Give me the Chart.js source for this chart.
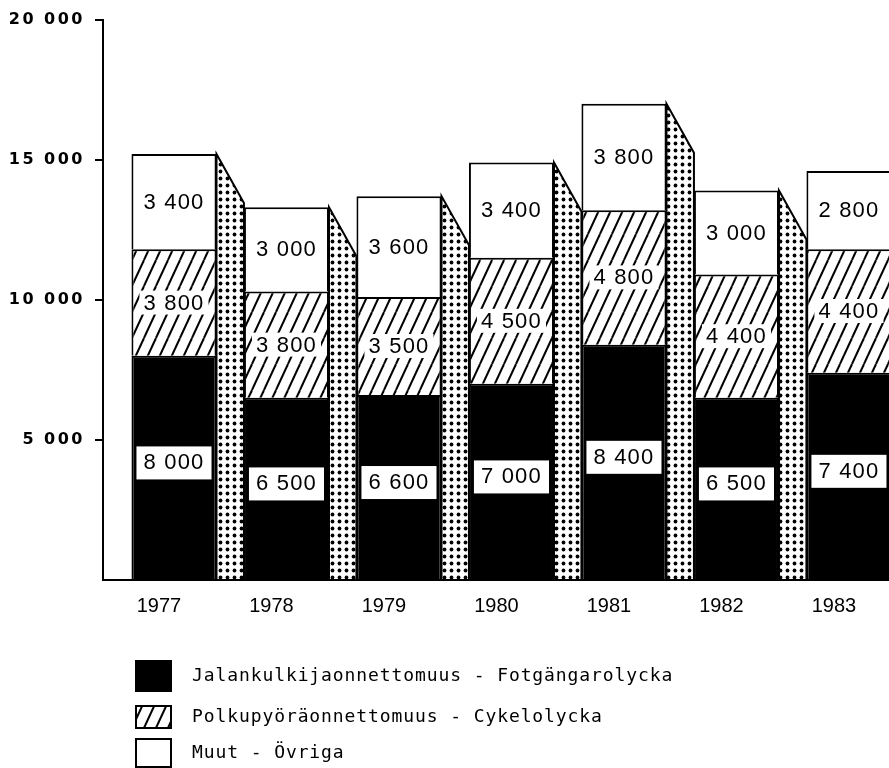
<!DOCTYPE html>
<html>
<head>
<meta charset="utf-8">
<script src="https://cdn.jsdelivr.net/npm/chart.js@4"></script>
<style>
  html, body { margin: 0; background: #fff; }
  #wrap { position: relative; width: 889px; height: 768px; }
</style>
</head>
<body>
<div id="wrap"><canvas id="accidentChart"></canvas></div>
<script>
// Accidents by type, stacked per year
const years = [1977, 1978, 1979, 1980, 1981, 1982, 1983];
const pedestrian = [8000, 6500, 6600, 7000, 8400, 6500, 7400];
const cyclist = [3800, 3800, 3500, 4500, 4800, 4400, 4400];
const other = [3400, 3000, 3600, 3400, 3800, 3000, 2800];
const yTicks = [0, 5000, 10000, 15000, 20000];
const seriesNames = [
    'Jalankulkijaonnettomuus - Fotgängarolycka',
    'Polkupyöräonnettomuus - Cykelolycka',
    'Muut - Övriga'
];

// 8000 -> "8 000"
const fmt = v => String(v).replace(/\B(?=(\d{3})+(?!\d))/g, ' ');

const canvas = document.getElementById('accidentChart');

function makePattern(w, h, draw) {
    const c = document.createElement('canvas');
    c.width = w;
    c.height = h;
    const g = c.getContext('2d');
    g.fillStyle = '#fff';
    g.fillRect(0, 0, w, h);
    draw(g, w, h);
    return canvas.getContext('2d').createPattern(c, 'repeat');
}

// steep "///" hatching
const hatch = makePattern(12, 26, (g, w, h) => {
    g.strokeStyle = '#000';
    g.lineWidth = 2;
    for (const x0 of [-w, 0, w]) {
        g.beginPath();
        g.moveTo(x0, h);
        g.lineTo(x0 + w, 0);
        g.stroke();
    }
});

// dot raster used on the bar sides
const dots = makePattern(7, 7, g => {
    g.fillStyle = '#000';
    g.beginPath();
    g.arc(3.5, 3.5, 1.9, 0, Math.PI * 2);
    g.fill();
});

const fills = ['#000', hatch, '#fff'];
const series = [pedestrian, cyclist, other];

const datasets = series.map((values, s) => ({
    label: seriesNames[s],
    data: values.map((v, i) => ({ x: years[i], y: v })),
    backgroundColor: fills[s],
    borderColor: '#000',
    borderWidth: 2,
    borderSkipped: 'start',
    barPercentage: 0.756,
    categoryPercentage: 1
}));

const valueFont = '22px "Liberation Sans"';

// dotted side face with a slanted top, to the right of every bar
const barSides = {
    id: 'barSides',
    beforeDatasetsDraw(chart) {
        const ctx = chart.ctx;
        const tops = chart.getDatasetMeta(chart.data.datasets.length - 1).data;
        const base = chart.scales.y.getPixelForValue(0);
        const depth = tops[1].x - tops[0].x - tops[0].width;
        const drop = 49;
        ctx.save();
        tops.forEach(el => {
            const right = el.x + el.width / 2;
            ctx.beginPath();
            ctx.moveTo(right, el.y);
            ctx.lineTo(right + depth, el.y + drop);
            ctx.lineTo(right + depth, base);
            ctx.lineTo(right, base);
            ctx.closePath();
            ctx.fillStyle = dots;
            ctx.fill();
            ctx.lineWidth = 2;
            ctx.strokeStyle = '#000';
            ctx.stroke();
        });
        ctx.restore();
    },
    afterDatasetsDraw(chart) {
        const ctx = chart.ctx;
        ctx.save();
        ctx.font = valueFont;
        ctx.letterSpacing = '1.2px';
        ctx.textAlign = 'center';
        ctx.textBaseline = 'middle';
        chart.data.datasets.forEach((ds, di) => {
            chart.getDatasetMeta(di).data.forEach((el, i) => {
                const text = fmt(ds.data[i].y);
                const w = ctx.measureText(text).width;
                let cy = (el.y + el.base) / 2;
                ctx.fillStyle = '#fff';
                if (di === 0) {
                    cy -= 5;
                    ctx.fillRect(el.x - (w + 14) / 2, cy - 16, w + 14, 33);
                } else if (di === 1) {
                    ctx.fillRect(el.x - (w + 8) / 2, cy - 12, w + 8, 24);
                }
                ctx.fillStyle = '#000';
                ctx.fillText(text, el.x, cy + 1);
            });
        });
        ctx.restore();
        // y tick labels are drawn after this hook; they are spaced wider
        ctx.letterSpacing = '2.5px';
    },
    beforeDraw(chart) {
        chart.ctx.letterSpacing = '0px';
    },
    afterDraw(chart) {
        const ctx = chart.ctx;
        ctx.letterSpacing = '0px';
        // legend rows below the axis
        const rows = [
            { y: 676, h: 30 },
            { y: 717, h: 22 },
            { y: 753, h: 28 }
        ];
        ctx.save();
        chart.data.datasets.forEach((ds, i) => {
            const r = rows[i];
            ctx.fillStyle = ds.backgroundColor;
            ctx.fillRect(136, r.y - r.h / 2, 35, r.h);
            ctx.lineWidth = 2;
            ctx.strokeStyle = '#000';
            ctx.strokeRect(136, r.y - r.h / 2, 35, r.h);
            ctx.fillStyle = '#000';
            ctx.font = '18px "DejaVu Sans Mono"';
            ctx.letterSpacing = '0.9px';
            ctx.textAlign = 'left';
            ctx.textBaseline = 'middle';
            ctx.fillText(ds.label, 192, r.y);
        });
        ctx.restore();
    }
};

new Chart(canvas, {
    type: 'bar',
    data: { datasets },
    options: {
        responsive: true,
        maintainAspectRatio: false,
        animation: false,
        layout: { padding: { top: 16, right: 0, left: 0, bottom: 0 } },
        plugins: {
            legend: { display: false },
            tooltip: { enabled: false }
        },
        scales: {
            x: {
                type: 'linear',
                min: 1976.369,
                max: 1983.356,
                offset: false,
                bounds: 'data',
                stacked: true,
                afterBuildTicks: s => { s.ticks = years.map(v => ({ value: v })); },
                afterFit: s => { s.height = 188; },
                grid: { display: false, offset: false },
                border: { display: true, color: '#000', width: 2 },
                ticks: {
                    labelOffset: -15,
                    padding: 6,
                    color: '#000',
                    font: { family: 'Liberation Sans', size: 20 },
                    callback: v => String(v)
                }
            },
            y: {
                min: 0,
                max: 20000,
                stacked: true,
                afterBuildTicks: s => { s.ticks = yTicks.map(v => ({ value: v })); },
                afterFit: s => { s.width = 103; },
                grid: {
                    drawOnChartArea: false,
                    drawTicks: true,
                    tickLength: 8,
                    lineWidth: 2,
                    tickColor: c => (c.tick && c.tick.value === 0) ? 'rgba(0,0,0,0)' : '#000'
                },
                border: { color: '#000', width: 2 },
                ticks: {
                    z: 1,
                    padding: 10,
                    color: '#000',
                    font: { family: 'DejaVu Sans', weight: 'bold', size: 16 },
                    callback: v => v === 0 ? '' : fmt(v)
                }
            }
        }
    },
    plugins: [barSides]
});
</script>
</body>
</html>
